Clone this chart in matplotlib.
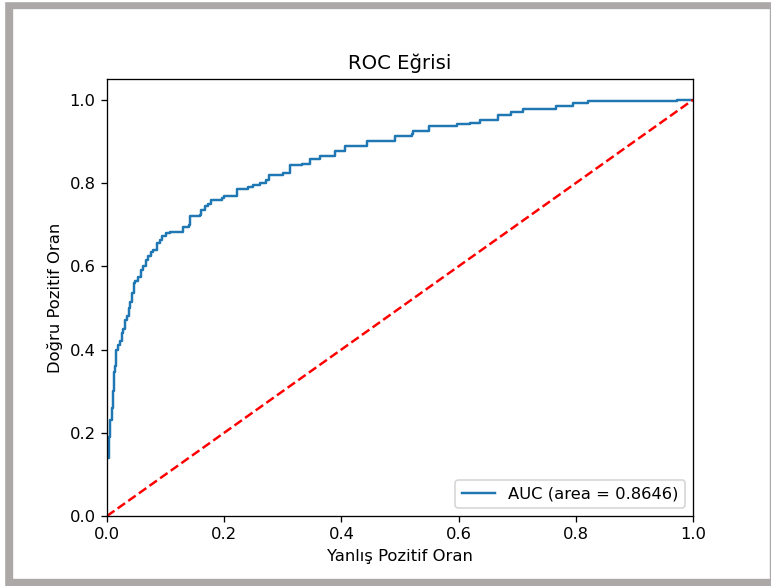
import matplotlib
matplotlib.use("Agg")
import matplotlib.pyplot as plt
from matplotlib.patches import Rectangle

# ROC curve corner points (fpr, tpr after each jump)
fpr = [0.0, 0.003, 0.005, 0.008, 0.010, 0.012, 0.014, 0.016, 0.019, 0.022,
       0.025, 0.028, 0.031, 0.034, 0.037, 0.040, 0.043, 0.046, 0.048, 0.053,
       0.058, 0.062, 0.066, 0.070, 0.075, 0.079, 0.085, 0.090, 0.094, 0.100,
       0.107, 0.130, 0.140, 0.142, 0.159, 0.161, 0.167, 0.172, 0.178, 0.196,
       0.200, 0.221, 0.240, 0.250, 0.261, 0.272, 0.276, 0.300, 0.312, 0.332,
       0.346, 0.363, 0.389, 0.406, 0.443, 0.491, 0.520, 0.523, 0.550, 0.597,
       0.619, 0.637, 0.668, 0.690, 0.710, 0.767, 0.796, 0.821, 0.972, 1.0]
tpr = [0.14, 0.19, 0.23, 0.26, 0.30, 0.345, 0.36, 0.40, 0.41, 0.42,
       0.44, 0.45, 0.47, 0.48, 0.50, 0.515, 0.535, 0.56, 0.565, 0.575,
       0.59, 0.60, 0.615, 0.625, 0.635, 0.64, 0.655, 0.662, 0.672, 0.68,
       0.683, 0.695, 0.70, 0.72, 0.724, 0.736, 0.744, 0.75, 0.76, 0.764,
       0.769, 0.785, 0.79, 0.795, 0.80, 0.808, 0.82, 0.825, 0.844, 0.846,
       0.857, 0.864, 0.877, 0.888, 0.901, 0.912, 0.918, 0.924, 0.938, 0.942,
       0.945, 0.952, 0.964, 0.970, 0.977, 0.986, 0.992, 0.996, 1.0, 1.0]
auc_score = 0.8646

W, H, dpi = 771, 586, 118
fig = plt.figure(figsize=(W / dpi, H / dpi), dpi=dpi)

# grey frame around the white canvas
gray = '#aba8a7'
fig.patches.append(Rectangle((6 / W, 0), (771 - 6) / W, (586 - 3) / H,
                             transform=fig.transFigure, color=gray, zorder=-2))
fig.patches.append(Rectangle((14 / W, (586 - 578) / H), (769 - 14) / W, (578 - 10) / H,
                             transform=fig.transFigure, color='white', zorder=-1))

ax = fig.add_axes([107 / W, (586 - 516) / H, 586 / W, 437 / H])
ax.plot(fpr, tpr, drawstyle='steps-post', lw=1.5,
        label='AUC (area = %0.4f)' % auc_score)
ax.plot([0, 1], [0, 1], 'r--', lw=1.5)
ax.set_xlim([0.0, 1.0])
ax.set_ylim([0.0, 1.05])
ax.set_xlabel('Yanlış Pozitif Oran')
ax.set_ylabel('Doğru Pozitif Oran')
ax.set_title('ROC Eğrisi')
ax.legend(loc='lower right')

fig.savefig('out.png', dpi=dpi)
